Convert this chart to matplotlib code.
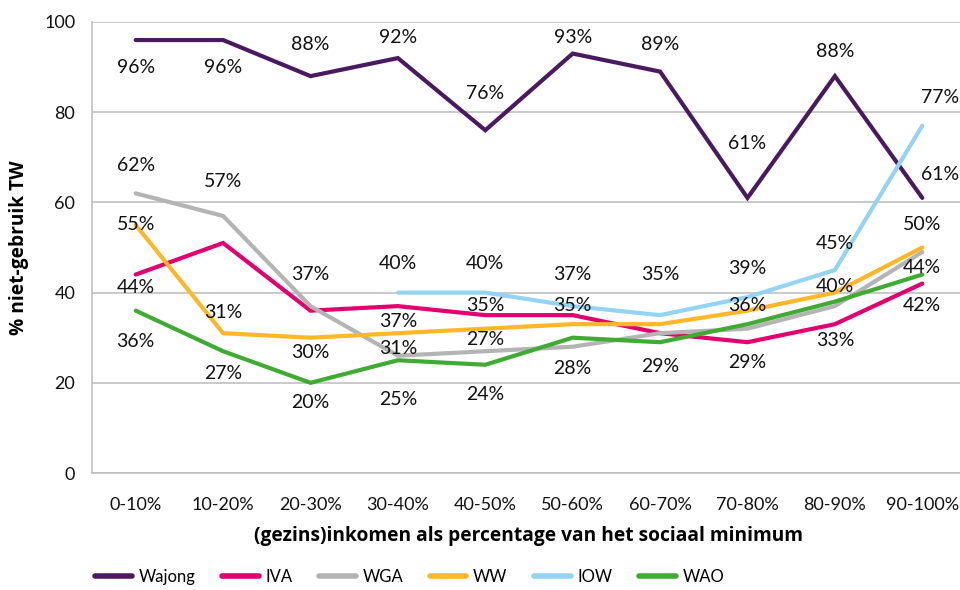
import numpy as np
import matplotlib
matplotlib.use('Agg')
import matplotlib.pyplot as plt
from matplotlib.lines import Line2D

# Data
categories = ['0-10%', '10-20%', '20-30%', '30-40%', '40-50%',
              '50-60%', '60-70%', '70-80%', '80-90%', '90-100%']
wajong = [96, 96, 88, 92, 76, 93, 89, 61, 88, 61]
iva = [44, 51, 36, 37, 35, 35, 31, 29, 33, 42]
wga = [62, 57, 37, 26, 27, 28, 31, 32, 37, 49]
ww = [55, 31, 30, 31, 32, 33, 33, 36, 40, 50]
iow = [np.nan, np.nan, np.nan, 40, 40, 37, 35, 39, 45, 77]
wao = [36, 27, 20, 25, 24, 30, 29, 33, 38, 44]

series_names = ['Wajong', 'IVA', 'WGA', 'WW', 'IOW', 'WAO']
series_values = [wajong, iva, wga, ww, iow, wao]
colors = ['#4a1a60', '#e2006f', '#b4b4b4', '#fdb727', '#93d3f3', '#40ab33']

# label placement (pixel offset above point, None = no label)
label_dy = [
    [-27, -27, 32, 21, 37, 16, 27, 54, 25, 23],
    [-13, None, None, -15, 10, 10, None, -20, -16, -22],
    [28, 34, 32, None, 12, -22, None, None, None, None],
    [0, 21, -15, -15, None, None, None, 5, 6, 23],
    [None, None, None, 29, 29, 32, 41, 29, 27, 28],
    [-31, -22, -20, -39, -30, None, -24, None, None, 7],
]
label_dx_last = [18, 0, 0, 0, 18, 0]

plt.rcParams['font.family'] = ['Lato', 'DejaVu Sans']

fig = plt.figure(figsize=(9.6, 5.9), dpi=100)
ax = fig.add_axes([92 / 960, 1 - 473 / 590, 874 / 960, 451 / 590])

x = np.arange(len(categories))
for name, vals, col, dys, dxl in zip(series_names, series_values, colors, label_dy, label_dx_last):
    ax.plot(x, vals, color=col, lw=3, solid_capstyle='round', solid_joinstyle='miter', label=name, zorder=3)
    for i, (v, dy) in enumerate(zip(vals, dys)):
        if dy is None or np.isnan(v):
            continue
        dx = dxl if i == len(vals) - 1 else 0
        ax.annotate(f'{v:.0f}%', (i, v), xytext=(dx, dy), textcoords='offset pixels',
                    ha='center', va='center', fontsize=14, color='#111111', zorder=4)

ax.set_xlim(-0.5, 9.5)
ax.set_ylim(0, 100)
ax.set_yticks([0, 20, 40, 60, 80, 100])
ax.set_xticks(x)
ax.set_xticklabels(categories)
ax.tick_params(axis='both', length=0, labelsize=13, colors='#111111')
ax.tick_params(axis='x', pad=17)
ax.tick_params(axis='y', pad=12)
ax.grid(axis='y', color='#c0c0c0', lw=1.2)
ax.set_axisbelow(True)
for s in ['top', 'right']:
    ax.spines[s].set_visible(False)
for s in ['left', 'bottom']:
    ax.spines[s].set_color('#c0c0c0')
    ax.spines[s].set_linewidth(1.2)

bold_font = {'family': ['Open Sans', 'DejaVu Sans'], 'weight': 'bold', 'size': 13.8}
ax.set_ylabel('% niet-gebruik TW', fontdict=bold_font, labelpad=11)
ax.set_xlabel('(gezins)inkomen als percentage van het sociaal minimum', fontdict=bold_font,
              labelpad=10)

handles = [Line2D([0], [0], color=c, lw=4, solid_capstyle='round') for c in colors]
fig.legend(handles, series_names, loc='center left', bbox_to_anchor=(80 / 960, 1 - 577 / 590),
           ncol=6, frameon=False, fontsize=12, handlelength=2.2, handletextpad=0.4,
           columnspacing=1.6)

fig.savefig('out.png', dpi=100)
